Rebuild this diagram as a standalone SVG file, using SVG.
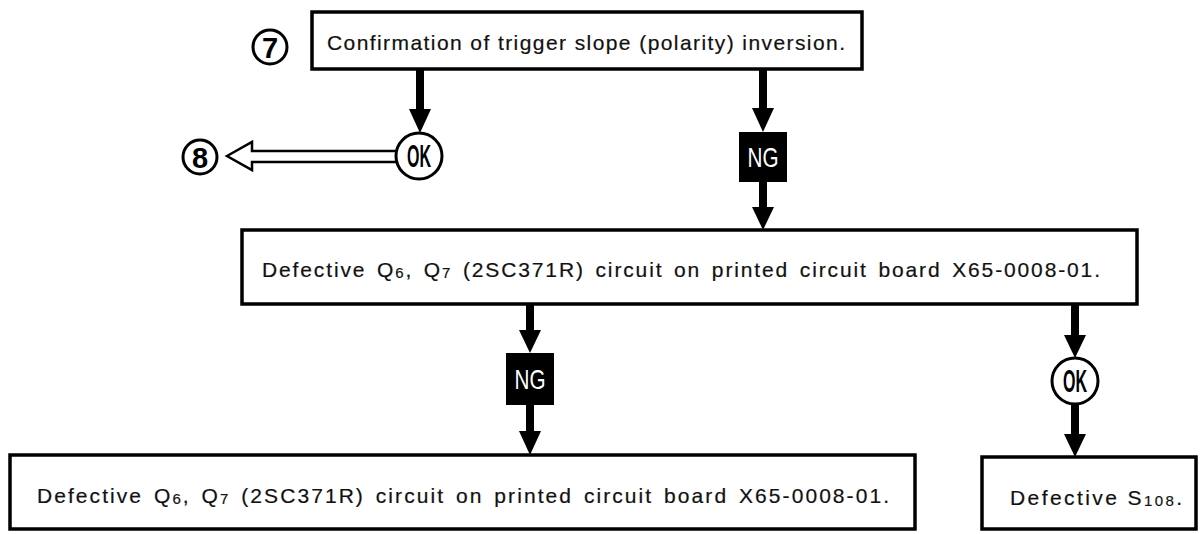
<svg xmlns="http://www.w3.org/2000/svg" width="1202" height="534" viewBox="0 0 1202 534">
<style>
.box{fill:#fff;stroke:#000;stroke-width:3.5}
.t{font-family:"Liberation Sans",Arial,sans-serif;font-size:21px;fill:#111;stroke:#111;stroke-width:0.2}
.sub{font-size:15px}
.ring{fill:#fff;stroke:#000;stroke-width:3}
.ok{font-family:"Liberation Sans",Arial,sans-serif;font-weight:bold;font-size:31px;fill:#000}
.ng{font-family:"Liberation Sans",Arial,sans-serif;font-size:28px;fill:#fff}
.num{font-family:"Liberation Sans",Arial,sans-serif;font-weight:bold;font-size:29px;fill:#000}
.shaft{stroke:#000;stroke-width:8;fill:none}
.head{fill:#000}
</style>

<g id="connectors">
<path class="shaft" d="M420,69 V112"/><path class="head" d="M409,109 H431 L420,133 Z"/>
<path class="shaft" d="M763,69 V111"/><path class="head" d="M752,108 H774 L763,132 Z"/>
<path class="shaft" d="M763,182 V210"/><path class="head" d="M752,207 H774 L763,230 Z"/>
<path class="shaft" d="M530,304 V333"/><path class="head" d="M519,330 H541 L530,353 Z"/>
<path class="shaft" d="M530,405 V434"/><path class="head" d="M519,431 H541 L530,455 Z"/>
<path class="shaft" d="M1075,304 V338"/><path class="head" d="M1064,335 H1086 L1075,358 Z"/>
<path class="shaft" d="M1075,404 V437"/><path class="head" d="M1064,434 H1086 L1075,457 Z"/>
<polygon points="227,156 252,142 252,151 397,151 397,162 252,162 252,170" fill="#fff" stroke="#000" stroke-width="2.5" stroke-linejoin="miter"/>
</g>

<g id="step7">
<circle class="ring" cx="270" cy="47" r="17"/>
<text class="num" x="270" y="57.5" text-anchor="middle">7</text>
</g>

<g id="box-confirm">
<rect class="box" x="312" y="12" width="550" height="57" stroke-width="4"/>
<text class="t" x="327" y="50" textLength="518" lengthAdjust="spacing">Confirmation of trigger slope (polarity) inversion.</text>
</g>

<g id="ok1">
<circle class="ring" cx="419" cy="156" r="23"/>
<text class="ok" x="419" y="167" text-anchor="middle" textLength="24" lengthAdjust="spacingAndGlyphs">OK</text>
</g>

<g id="step8">
<circle class="ring" cx="200" cy="157" r="17"/>
<text class="num" x="200" y="167.5" text-anchor="middle">8</text>
</g>

<g id="ng1">
<rect x="739" y="132" width="48" height="50" fill="#000"/>
<text class="ng" x="763" y="167" text-anchor="middle" textLength="31" lengthAdjust="spacingAndGlyphs">NG</text>
</g>

<g id="box-defective1">
<rect class="box" x="242" y="230" width="895" height="74"/>
<text class="t" x="262" y="277" textLength="838" lengthAdjust="spacing" word-spacing="3">Defective Q<tspan class="sub" dy="1">6</tspan><tspan dy="-1">, Q</tspan><tspan class="sub" dy="1">7</tspan><tspan dy="-1"> (2SC371R) circuit on printed circuit board X65-0008-01.</tspan></text>
</g>

<g id="ng2">
<rect x="506" y="353" width="48" height="52" fill="#000"/>
<text class="ng" x="530" y="389" text-anchor="middle" textLength="31" lengthAdjust="spacingAndGlyphs">NG</text>
</g>

<g id="ok2">
<circle class="ring" cx="1075" cy="381" r="23"/>
<text class="ok" x="1075" y="392" text-anchor="middle" textLength="24" lengthAdjust="spacingAndGlyphs">OK</text>
</g>

<g id="box-defective2">
<rect class="box" x="10" y="455" width="905" height="74"/>
<text class="t" x="37" y="503" textLength="852" lengthAdjust="spacing" word-spacing="3">Defective Q<tspan class="sub" dy="1">6</tspan><tspan dy="-1">, Q</tspan><tspan class="sub" dy="1">7</tspan><tspan dy="-1"> (2SC371R) circuit on printed circuit board X65-0008-01.</tspan></text>
</g>

<g id="box-s108">
<rect class="box" x="982" y="457" width="214" height="72"/>
<text class="t" x="1010" y="505" textLength="172" lengthAdjust="spacing">Defective S<tspan class="sub" dy="1">108</tspan><tspan dy="-1">.</tspan></text>
</g>
</svg>
